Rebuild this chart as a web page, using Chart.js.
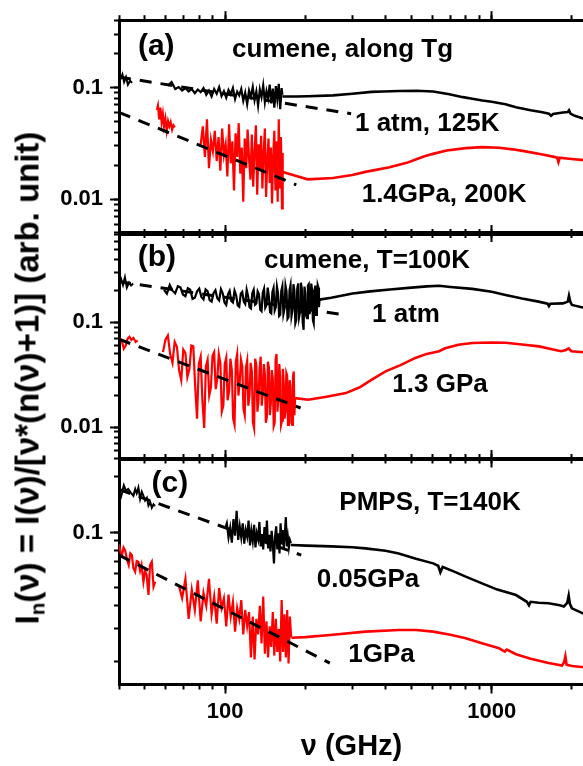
<!DOCTYPE html>
<html>
<head>
<meta charset="utf-8">
<script src="https://cdn.jsdelivr.net/npm/chart.js@4.4.1/dist/chart.umd.min.js"></script>
<style>
  html, body { margin:0; padding:0; background:#fff; overflow:hidden; }
  #wrap { position:relative; width:583px; height:766px; overflow:hidden; background:#fff; }
  #wrap canvas { position:absolute; left:0; top:0; }
  #ytitle { position:absolute; left:27px; top:378px; font:bold 33px "Liberation Sans", Arial, sans-serif;
            line-height:33px; white-space:nowrap; color:#000;
            transform: translate(-50%,-50%) rotate(-90deg); }
  #ytitle sub { font-size:0.62em; vertical-align:-0.3em; line-height:0; }
</style>
</head>
<body>
<div id="wrap">
  <canvas id="pa" width="586" height="766"></canvas>
  <canvas id="pb" width="586" height="766"></canvas>
  <canvas id="pc" width="586" height="766"></canvas>
  <div id="ytitle">I<sub>n</sub>(ν) = I(ν)/[ν*(n(ν)+1)] (arb. unit)</div>
</div>
<script>
// ---------------- axis settings ----------------
const xRange = [40, 2220];
const xTickLabels = [100, 1000];
const xTitle = 'ν (GHz)';
const yRangeA = [0.005, 0.4], yTickLabelsA = [0.01, 0.1];
const yRangeB = [0.005, 0.7], yTickLabelsB = [0.01, 0.1];
const yRangeC = [0.015, 0.25], yTickLabelsC = [0.1];

// ---------------- panel (a): cumene, along Tg ----------------
const a1atmStart = [[40.5,0.118],[41.2,0.131],[41.8,0.112],[42.5,0.124],[43.2,0.106],[44,0.115],[44.8,0.11]];
const a1atmNoise = [[61,0.104],[63,0.112],[65,0.097],[67,0.101],[69,0.094],[71,0.099],[73,0.092],[75,0.097],[77,0.089],[79,0.096],
 [81,0.091],[83,0.099],[85,0.086],[87,0.094],[89,0.083],[91,0.097],[93,0.088],[95,0.101],[97,0.084],[99,0.093],
 [101,0.081],[103,0.095],[105,0.087],[107,0.099],[109,0.079],[111,0.092],[113,0.085],[115,0.097],[117,0.076],[119,0.090],
 [121,0.071],[123,0.094],[125,0.083],[127,0.101],[129,0.077],[131,0.092],[133,0.069],[135,0.096],[137,0.082],[139,0.104],
 [141,0.074],[143,0.093],[145,0.080],[147,0.106],[149,0.072],[151,0.098],[153,0.066],[155,0.103],[157,0.079],[159,0.108],
 [161,0.064],[163,0.099],[164,0.086]];
const a1atmSmooth = [[164,0.083],[185,0.083],[205,0.0835],[254,0.085],[300,0.088],[354,0.0915],[391,0.092],[450,0.093],[522,0.0937],
 [603,0.092],[694,0.087],[780,0.082],[846,0.0795],[923,0.0765],[1000,0.0745],[1127,0.071],[1234,0.0665],[1400,0.0625],[1550,0.06],
 [1640,0.0583],[1670,0.056],[1700,0.058],[1850,0.0598],[1930,0.0605],[1950,0.0625],[1975,0.0585],[2050,0.0558],[2220,0.0525]];
const a1atmFit = [[40,0.124],[297,0.0583]];
const a14GPaStart = [[55.5,0.063],[56,0.069],[56.6,0.052],[57.2,0.066],[57.8,0.049],[58.4,0.058],[59,0.045],[59.7,0.053],
 [60.4,0.041],[61.1,0.05],[61.8,0.045],[62.5,0.049],[63.3,0.042],[64,0.046],[64.8,0.044]];
const a14GPaNoise = [[81,0.031],[82.5,0.045],[84,0.024],[85.5,0.052],[87,0.019],[88.5,0.034],[90,0.027],[91.5,0.041],[93,0.022],
 [94.5,0.036],[96,0.018],[97.5,0.043],[99,0.025],[100.5,0.031],[102,0.016],[103.5,0.047],[105,0.021],[106.5,0.033],[108,0.012],
 [109.5,0.039],[111,0.024],[112.5,0.048],[114,0.017],[115.5,0.029],[117,0.0095],[118.5,0.035],[120,0.019],[121.5,0.042],[123,0.023],
 [124.5,0.015],[126,0.038],[127.5,0.013],[129,0.027],[130.5,0.046],[132,0.011],[133.5,0.031],[135,0.018],[136.5,0.037],[138,0.0125],
 [139.5,0.026],[141,0.043],[142.5,0.0105],[144,0.022],[145.5,0.035],[147,0.014],[148.5,0.029],[150,0.0092],[151.5,0.024],[153,0.041],
 [154.5,0.012],[156,0.033],[157.5,0.0095],[159,0.052],[160.5,0.0125],[162,0.036],[163.5,0.0083],[164.5,0.026]];
const a14GPaSmooth = [[164.5,0.0176],[185,0.0162],[204,0.0151],[254,0.0155],[300,0.0165],[336,0.0176],[414,0.0194],[480,0.0212],
 [522,0.0228],[560,0.0243],[585,0.025],[603,0.0255],[678,0.0273],[799,0.0287],[920,0.0293],[1065,0.0289],[1200,0.028],[1355,0.0267],
 [1550,0.0252],[1700,0.0241],[1760,0.0236],[1780,0.0215],[1800,0.0236],[1950,0.0231],[2220,0.0224]];
const a14GPaFit = [[40,0.06],[185,0.0135]];

// ---------------- panel (b): cumene, T=100K ----------------
const b1atmStart = [[40,0.245],[40.7,0.262],[41.4,0.228],[42.1,0.27],[42.8,0.215],[43.6,0.24],[44.4,0.225],[45.2,0.235]];
const b1atmNoise = [[59,0.205],[60.5,0.188],[62,0.228],[63.5,0.201],[65,0.19],[66.5,0.222],[68,0.216],[69.5,0.185],[71,0.178],[72.5,0.212],
 [74,0.205],[75.5,0.168],[77,0.172],[78.5,0.198],[80,0.21],[81.5,0.175],[83,0.166],[84.5,0.207],[86,0.198],[87.5,0.163],
 [89,0.158],[90.5,0.19],[92,0.203],[93.5,0.17],[95,0.162],[96.5,0.208],[98,0.19],[99.5,0.155],[101,0.147],[102.5,0.185],
 [104,0.2],[105.5,0.16],[107,0.155],[108.5,0.201],[110,0.182],[111.5,0.145],[113,0.141],[114.5,0.188],[116,0.196],[117.5,0.158],
 [119,0.15],[120.5,0.205],[122,0.178],[123.5,0.14],[125,0.136],[126.5,0.19],[128,0.205],[129.5,0.148],[131,0.152],[132.5,0.198],
 [134,0.186],[135.5,0.132],[137,0.128],[138.5,0.192],[140,0.21],[141.5,0.138],[143,0.146],[144.5,0.215],[146,0.175],[147.5,0.125],
 [149,0.122],[150.5,0.196],[152,0.214],[153.5,0.13],[155,0.14],[156.5,0.22],[158,0.19],[159.5,0.115],[161,0.118],[162.5,0.2],
 [164,0.222],[165.5,0.12],[167,0.134],[168.5,0.225],[170,0.198],[171.5,0.108],[173,0.112],[174.5,0.205],[176,0.228],[177.5,0.115],
 [179,0.13],[180.5,0.232],[182,0.2],[183.5,0.098],[185,0.105],[186.5,0.21],[188,0.236],[189.5,0.112],[191,0.125],[192.5,0.24],
 [194,0.21],[195.5,0.1],[197,0.085],[198.5,0.22],[200,0.19],[201.5,0.115],[203,0.11],[204.5,0.225],[206,0.232],[207.5,0.12],
 [209,0.14],[210.5,0.235],[212,0.205],[213.5,0.105],[215,0.098],[216.5,0.2],[218,0.225],[219.5,0.118],[221,0.13],[222.5,0.228],
 [224,0.215],[225,0.14],[226,0.165]];
const b1atmSmooth = [[226,0.165],[250,0.172],[301,0.189],[350,0.198],[415,0.206],[500,0.215],[571,0.221],[635,0.224],[700,0.218],
 [846,0.209],[1000,0.196],[1127,0.183],[1300,0.169],[1500,0.158],[1620,0.151],[1640,0.143],[1660,0.151],[1850,0.152],[1930,0.158],
 [1950,0.18],[1975,0.156],[2000,0.147],[2220,0.138]];
const b1atmFit = [[40,0.245],[274,0.119]];
const b13GPaStart = [[40.3,0.071],[41,0.066],[41.7,0.056],[42.4,0.06],[43.1,0.07],[43.8,0.073],[44.5,0.068],[45.3,0.071],[46.2,0.065],[47,0.067]];
const b13GPaNoise = [[58.5,0.052],[59.7,0.068],[61,0.075],[62.2,0.05],[63.5,0.041],[64.7,0.065],[66,0.058],[67.2,0.035],[68.5,0.028],[69.7,0.055],
 [71,0.051],[72.2,0.03],[73.5,0.036],[74.7,0.06],[76,0.059],[77.2,0.025],[78.5,0.012],[79.7,0.04],[81,0.047],[82.2,0.018],
 [83.5,0.0098],[84.7,0.038],[86,0.044],[87.2,0.02],[88.5,0.024],[89.7,0.048],[91,0.052],[92.2,0.023],[93.5,0.029],[94.7,0.05],
 [96,0.041],[97.2,0.014],[98.5,0.016],[99.7,0.04],[101,0.046],[102.2,0.018],[103.5,0.022],[104.7,0.045],[106,0.035],[107.2,0.012],
 [108.5,0.0105],[109.7,0.042],[111,0.05],[112.2,0.02],[113.5,0.027],[114.7,0.044],[116,0.038],[117.2,0.015],[118.5,0.013],[119.7,0.037],
 [121,0.043],[122.2,0.016],[123.5,0.02],[124.7,0.041],[126,0.034],[127.2,0.011],[128.5,0.0097],[129.7,0.045],[131,0.039],[132.2,0.014],
 [133.5,0.018],[134.7,0.036],[136,0.047],[137.2,0.016],[138.5,0.021],[139.7,0.04],[141,0.032],[142.2,0.011],[143.5,0.0125],[144.7,0.042],
 [146,0.037],[147.2,0.013],[148.5,0.017],[149.7,0.035],[151,0.029],[152.2,0.0102],[153.5,0.011],[154.7,0.044],[156,0.05],[157.2,0.014],
 [158.5,0.019],[159.7,0.04],[161,0.03],[162.2,0.0105],[163.5,0.0115],[164.7,0.036],[166,0.026],[167.2,0.012],[168.5,0.014],[169.7,0.033],
 [171,0.031],[172.2,0.0105],[173.5,0.0118],[174.7,0.028],[176,0.024],[177.2,0.011],[178.5,0.0105],[179.7,0.03],[181,0.034],[182,0.013],
 [183,0.0185]];
const b13GPaSmooth = [[183,0.0189],[205,0.0182],[240,0.0195],[284,0.0211],[320,0.024],[354,0.0282],[400,0.034],[455,0.039],[520,0.046],
 [571,0.05],[635,0.053],[669,0.0565],[750,0.0612],[846,0.0635],[1000,0.0643],[1127,0.064],[1300,0.0615],[1505,0.059],[1700,0.055],
 [1822,0.053],[1900,0.0545],[1945,0.0565],[1990,0.053],[2220,0.0518]];
const b13GPaFit = [[40,0.069],[192,0.0152]];

// ---------------- panel (c): PMPS, T=140K ----------------
const c005GPaStart = [[40.5,0.152],[41,0.162],[41.7,0.18],[42.5,0.168],[43.3,0.172],[44.2,0.165],[45.3,0.158],[46,0.172],[46.6,0.163],
 [47.3,0.175],[48,0.152],[48.7,0.166],[49.4,0.158],[50.1,0.149],[50.9,0.154],[51.6,0.14],[52.4,0.146],[53.1,0.136],[53.9,0.142],[54.6,0.139]];
const c005GPaNoise = [[100,0.105],[101.5,0.112],[103,0.094],[104.5,0.106],[106,0.088],[107.5,0.118],[109,0.096],[110.5,0.131],[112,0.091],
 [113.5,0.108],[115,0.094],[116.5,0.112],[118,0.087],[119.5,0.103],[121,0.095],[122.5,0.116],[124,0.085],[125.5,0.102],[127,0.09],
 [128.5,0.11],[130,0.083],[131.5,0.099],[133,0.092],[134.5,0.114],[136,0.084],[137.5,0.098],[139,0.081],[140.5,0.107],[142,0.088],
 [143.5,0.116],[145,0.082],[146.5,0.097],[148,0.079],[149.5,0.102],[151,0.087],[152.5,0.068],[154,0.095],[155.5,0.108],[157,0.081],
 [158.5,0.099],[160,0.077],[161.5,0.112],[163,0.086],[164.5,0.103],[166,0.082],[167.5,0.097],[169,0.121],[170.5,0.084],[172,0.094],
 [173.5,0.083],[175,0.091],[176.5,0.0875]];
const c005GPaSmooth = [[176.5,0.0855],[202,0.0848],[250,0.084],[300,0.0832],[336,0.082],[400,0.0795],[448,0.077],[520,0.072],[603,0.068],
 [630,0.066],[642,0.0608],[655,0.065],[720,0.0615],[799,0.0576],[920,0.053],[1050,0.049],[1234,0.0458],[1355,0.0421],[1380,0.0403],
 [1400,0.0421],[1500,0.0416],[1635,0.0413],[1800,0.0403],[1866,0.0397],[1920,0.0415],[1945,0.0455],[1965,0.041],[2000,0.0388],[2220,0.0362]];
const c005GPaFit = [[40,0.171],[193,0.0754]];
const c1GPaStart = [[40,0.086],[40.5,0.079],[41.1,0.0754],[41.6,0.083],[42.2,0.08],[42.8,0.072],[43.5,0.0666],[44.1,0.077],[44.7,0.0754],
 [45.3,0.064],[46,0.0612],[46.6,0.07],[47.3,0.0694],[48,0.062],[48.6,0.0666],[49.4,0.0541],[50.1,0.062],[50.8,0.0588],[51.6,0.0459],
 [52.3,0.0666],[53.1,0.0694],[53.9,0.0508],[54.7,0.0541]];
const c1GPaNoise = [[67,0.052],[69,0.044],[71,0.056],[73,0.034],[75,0.049],[77,0.038],[79,0.055],[81,0.033],[83,0.047],[85,0.04],
 [87,0.056],[89,0.036],[91,0.045],[93,0.032],[95,0.05],[97,0.039],[99,0.044],[101,0.031],[103,0.046],[105,0.035],
 [107,0.042],[109,0.029],[111,0.039],[113,0.034],[115,0.043],[117,0.028],[119,0.038],[121,0.031],[123,0.037],[125,0.021],
 [127,0.035],[129,0.0205],[131,0.034],[133,0.028],[135,0.04],[137,0.025],[139,0.045],[141,0.022],[143,0.033],[145,0.021],
 [147,0.031],[149,0.024],[151,0.037],[153,0.0215],[155,0.034],[157,0.0225],[159,0.03],[161,0.02],[163,0.043],[165,0.0225],
 [167,0.036],[169,0.021],[171,0.038],[173,0.0195],[175,0.035],[177,0.027]];
const c1GPaSmooth = [[177.5,0.0269],[200,0.0271],[254,0.0279],[336,0.029],[448,0.0296],[522,0.0296],[603,0.029],[700,0.0279],[799,0.0267],
 [920,0.0251],[1065,0.0236],[1120,0.0226],[1140,0.0232],[1234,0.0219],[1400,0.0207],[1635,0.0196],[1836,0.019],[1870,0.0198],
 [1890,0.0213],[1910,0.0192],[2000,0.0189],[2220,0.0186]];
const c1GPaFit = [[40,0.0754],[247,0.0196]];

// ---------------- panel texts ----------------
const textsA = [
  {text:'(a)', x:47.1, y:0.1946, size:30},
  {text:'cumene, along Tg', x:106.2, y:0.188, size:26},
  {text:'1 atm, 125K', x:307, y:0.041, size:26},
  {text:'1.4GPa, 200K', x:325.4, y:0.0095, size:26}
];
const textsB = [
  {text:'(b)', x:47, y:0.346, size:30},
  {text:'cumene, T=100K', x:140, y:0.331, size:26},
  {text:'1 atm', x:355.7, y:0.1016, size:26},
  {text:'1.3 GPa', x:423.9, y:0.02176, size:26}
];
const textsC = [
  {text:'(c)', x:53, y:0.166, size:30},
  {text:'PMPS, T=140K', x:268.2, y:0.1323, size:26},
  {text:'0.05GPa', x:220.6, y:0.0508, size:26},
  {text:'1GPa', x:289.9, y:0.01995, size:26}
];

// ---------------- drawing ----------------
const FONT = '"Liberation Sans", Arial, Helvetica, sans-serif';
const CW = 586, CH = 766, PLOT_LEFT = 119, PLOT_RIGHT = 584;
const BLACK = '#000000', RED = '#ff0000';

function decadeTicks(min, max) {
  const out = [];
  for (let e = -4; e <= 4; e++) for (let m = 1; m <= 9; m++) {
    const v = +(m * Math.pow(10, e)).toPrecision(3);
    if (v >= min * 0.999 && v <= max * 1.001) out.push(v);
  }
  return out;
}
const pts = arr => arr.map(([x, y]) => ({x, y}));

function line(data, color, width) {
  return {data: pts(data), borderColor: color, borderWidth: width, pointRadius: 0, tension: 0, fill: false};
}
function dashed(data) {
  return {data: pts(data), borderColor: BLACK, borderWidth: 3, borderDash: [12, 9], pointRadius: 0, tension: 0, fill: false};
}

const panelTextPlugin = {
  id: 'panelText',
  afterDraw(chart, args, opts) {
    const ctx = chart.ctx, xs = chart.scales.x, ys = chart.scales.y;
    ctx.save();
    ctx.fillStyle = '#000';
    ctx.textAlign = 'left';
    ctx.textBaseline = 'alphabetic';
    for (const t of opts.items || []) {
      ctx.font = 'bold ' + t.size + 'px ' + FONT;
      ctx.fillText(t.text, xs.getPixelForValue(t.x), ys.getPixelForValue(t.y));
    }
    ctx.restore();
  }
};

function axis(kind, position, min, max, tickValues, len, extra) {
  const base = {
    type: 'logarithmic', axis: kind, position, min, max,
    weight: len > 6 ? 1 : 0,
    afterBuildTicks: s => { s.ticks = tickValues.map(v => ({value: v})); },
    afterFit: s => { if (kind === 'x') s.height = 0; else s.width = 0; },
    border: {display: len > 6, width: 3, color: '#000'},
    grid: {display: true, drawOnChartArea: false, drawTicks: true, tickLength: len, tickWidth: 2, tickColor: '#000'},
    ticks: {display: false, autoSkip: false}
  };
  return Object.assign(base, extra || {});
}

function makePanel(id, top, bottom, yRange, yLabels, datasets, texts, showX) {
  const [ymin, ymax] = yRange;
  const xMinor = decadeTicks(xRange[0], xRange[1]);
  const yMinor = decadeTicks(ymin, ymax);
  const scales = {
    x: axis('x', 'bottom', xRange[0], xRange[1], xTickLabels, 9, showX ? {
      afterFit: s => { s.height = CH - bottom; },
      ticks: {display: true, autoSkip: false, maxRotation: 0, padding: 5, color: '#000',
              font: {family: FONT, size: 22, weight: 'bold'}, callback: v => String(v)},
      title: {display: true, text: xTitle, color: '#000', font: {family: FONT, size: 29, weight: 'bold'},
              padding: {top: 0, bottom: 2}}
    } : {}),
    x2: axis('x', 'bottom', xRange[0], xRange[1], xMinor, 5),
    xt: axis('x', 'top', xRange[0], xRange[1], xTickLabels, 9),
    xt2: axis('x', 'top', xRange[0], xRange[1], xMinor, 5),
    y: axis('y', 'left', ymin, ymax, yLabels, 9, {
      afterFit: s => { s.width = PLOT_LEFT; },
      ticks: {display: true, autoSkip: false, padding: 7, color: '#000',
              font: {family: FONT, size: 22, weight: 'bold'}, callback: v => String(v)}
    }),
    y2: axis('y', 'left', ymin, ymax, yMinor, 5),
    yr: {type: 'logarithmic', axis: 'y', position: 'right', min: ymin, max: ymax,
         afterFit: s => { s.width = 0; },
         border: {display: true, width: 3, color: '#000'},
         grid: {display: false}, ticks: {display: false}}
  };
  new Chart(document.getElementById(id), {
    type: 'line',
    data: {datasets},
    options: {
      responsive: false, animation: false, devicePixelRatio: 1,
      layout: {padding: {left: 0, right: CW - PLOT_RIGHT, top: top, bottom: showX ? 0 : CH - bottom}},
      plugins: {legend: {display: false}, tooltip: {enabled: false}, panelText: {items: texts}},
      scales
    },
    plugins: [panelTextPlugin]
  });
}

makePanel('pa', 8, 233, yRangeA, yTickLabelsA, [
  dashed(a1atmFit), dashed(a14GPaFit),
  line(a1atmStart, BLACK, 2), line(a1atmNoise, BLACK, 2.2), line(a1atmSmooth, BLACK, 2.6),
  line(a14GPaStart, RED, 2.2), line(a14GPaNoise, RED, 2.2), line(a14GPaSmooth, RED, 2.6)
], textsA, false);

makePanel('pb', 234, 458.5, yRangeB, yTickLabelsB, [
  dashed(b1atmFit), dashed(b13GPaFit),
  line(b1atmStart, BLACK, 2), line(b1atmNoise, BLACK, 2.2), line(b1atmSmooth, BLACK, 2.6),
  line(b13GPaStart, RED, 2.2), line(b13GPaNoise, RED, 2.2), line(b13GPaSmooth, RED, 2.6)
], textsB, false);

makePanel('pc', 459, 684.5, yRangeC, yTickLabelsC, [
  dashed(c005GPaFit), dashed(c1GPaFit),
  line(c005GPaStart, BLACK, 2), line(c005GPaNoise, BLACK, 2.2), line(c005GPaSmooth, BLACK, 2.6),
  line(c1GPaStart, RED, 2.2), line(c1GPaNoise, RED, 2.2), line(c1GPaSmooth, RED, 2.6)
], textsC, true);
</script>
</body>
</html>
